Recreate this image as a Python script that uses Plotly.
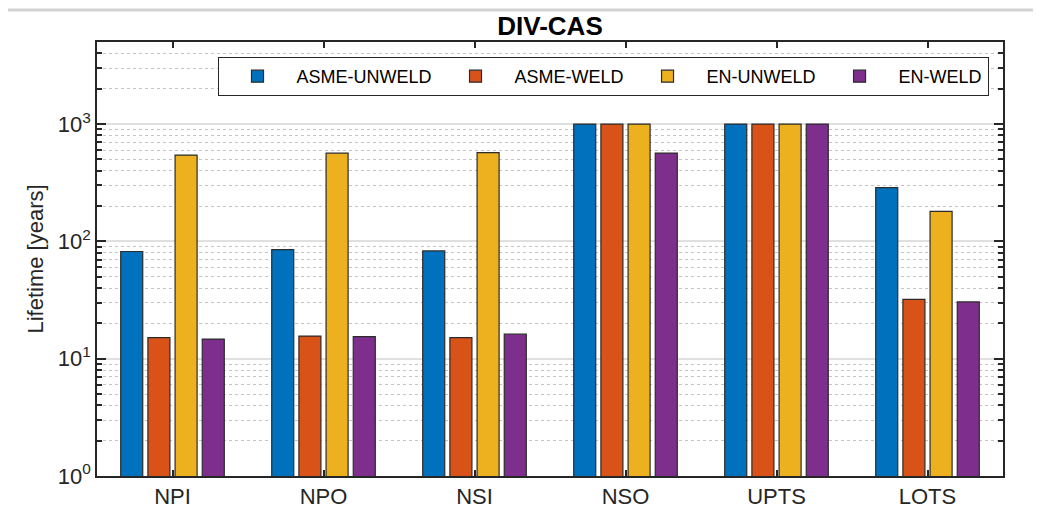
import plotly.graph_objects as go

categories = ["NPI", "NPO", "NSI", "NSO", "UPTS", "LOTS"]
asme_unweld = [82, 85, 83, 1000, 1000, 287]
asme_weld = [15.1, 15.6, 15.1, 1000, 1000, 32]
en_unweld = [545, 565, 572, 1000, 1000, 180]
en_weld = [14.7, 15.4, 16.2, 566, 1000, 30.5]

series_names = ["ASME-UNWELD", "ASME-WELD", "EN-UNWELD", "EN-WELD"]
series_values = [asme_unweld, asme_weld, en_unweld, en_weld]
colors = ["#0072BD", "#D95319", "#EDB120", "#7E2F8E"]

ytick_vals = [1, 10, 100, 1000]
ytick_text = ["10<sup>0</sup>", "10<sup>1</sup>", "10<sup>2</sup>", "10<sup>3</sup>"]
minor_vals = [m * 10 ** d for d in range(0, 4) for m in range(2, 10)]

FONT = "Liberation Sans, Arial, sans-serif"

fig = go.Figure()
for name, vals, col in zip(series_names, series_values, colors):
    fig.add_trace(go.Bar(
        x=list(range(1, len(categories) + 1)), y=vals, name=name,
        marker=dict(color=col, line=dict(color="#2b2b2b", width=1.2)),
    ))

fig.update_layout(
    width=1041, height=517,
    margin=dict(l=89, r=46, t=34, b=49),
    paper_bgcolor="white", plot_bgcolor="white",
    barmode="group", bargap=0.28, bargroupgap=0.19,
    font=dict(family=FONT, color="#262626"),
    title=dict(text="<b>DIV-CAS</b>", x=0.5, xref="paper", xanchor="center",
               y=1 - 18 / 517, yanchor="middle", font=dict(size=26, color="black", family=FONT)),
    showlegend=True,
    legend=dict(orientation="h", x=0.984, xanchor="right", y=0.9654, yanchor="top",
                bgcolor="white", bordercolor="#262626", borderwidth=1,
                font=dict(size=18, color="black", family=FONT),
                itemwidth=68, traceorder="normal"),
    shapes=[dict(type="line", xref="paper", yref="paper", x0=-0.2, x1=1.2,
                 y0=1 + 32 / 434, y1=1 + 32 / 434,
                 line=dict(color="#d3d3d3", width=3))],
)

fig.update_xaxes(
    range=[0.5, 6.5], tickvals=list(range(1, 7)), ticktext=categories,
    ticks="inside", ticklen=6, tickcolor="#262626", tickwidth=1.5,
    showline=True, linecolor="#262626", linewidth=1.5, mirror="ticks",
    showgrid=False, zeroline=False,
    tickfont=dict(size=22, color="#262626"),
)
fig.update_yaxes(
    type="log", range=[0, 3.7], tickvals=ytick_vals, ticktext=ytick_text,
    ticks="inside", ticklen=9, tickcolor="#262626", tickwidth=1.5,
    showline=True, linecolor="#262626", linewidth=1.5, mirror="ticks",
    showgrid=True, gridcolor="#e0e0e0", gridwidth=1.5,
    tickfont=dict(size=22, color="#262626"),
    title=dict(text="Lifetime [years]", font=dict(size=22, color="#262626"), standoff=8),
    minor=dict(tickvals=minor_vals, ticks="inside", ticklen=5, tickcolor="#262626",
               showgrid=True, gridcolor="#c4c4c4", griddash="dot", gridwidth=1),
)

fig.write_html("out.html")
